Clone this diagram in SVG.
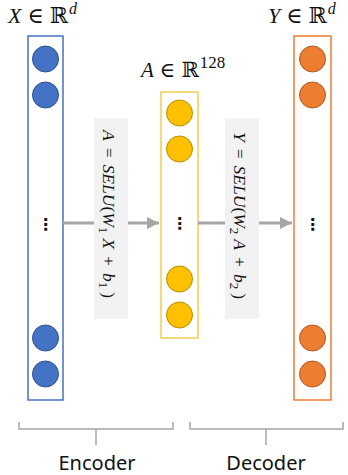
<svg xmlns="http://www.w3.org/2000/svg" width="348" height="475" viewBox="0 0 348 475">
  <defs>
    <marker id="head" viewBox="0 0 10 10" refX="10" refY="5" markerWidth="4" markerHeight="4" markerUnits="strokeWidth" orient="auto">
      <path d="M0,0 L10,5 L0,10 Z" fill="#A6A6A6"/>
    </marker>
    <style>
      .math { font-family: "Liberation Serif", "DejaVu Serif", serif; font-style: italic; fill: #111; }
      .bb { font-family: "DejaVu Serif", "DejaVu Sans", serif; font-style: normal; }
      .up { font-style: normal; }
      .layer { fill: #fff; stroke-width: 1.5; }
      .blue .layer { stroke: #4472C4; }
      .blue circle { fill: #4472C4; stroke: #2F528F; stroke-width: 1; }
      .gold .layer { stroke: #F2CC4E; }
      .gold circle { fill: #FFC000; stroke: #BC8C00; stroke-width: 1; }
      .orange .layer { stroke: #ED7D31; }
      .orange circle { fill: #ED7D31; stroke: #AE5A21; stroke-width: 1; }
      .vdots { font-family: "DejaVu Sans", sans-serif; font-size: 16px; font-weight: bold; fill: #111; text-anchor: middle; }
      .eq { fill: #F2F2F2; }
      .arrow { stroke: #A6A6A6; stroke-width: 3; fill: none; }
      .brace { stroke: #A6A6A6; stroke-width: 1.5; fill: none; }
      .cap { font-family: "Noto Sans", "Open Sans", sans-serif; font-size: 20px; fill: #111; text-anchor: middle; }
    </style>
  </defs>

  <!-- input layer X -->
  <g id="input" class="blue">
    <text class="math" x="8" y="23" font-size="22">X<tspan class="up" dx="6">∈</tspan><tspan class="bb" dx="6">ℝ</tspan><tspan font-size="16" dy="-9" dx="1">d</tspan></text>
    <rect class="layer" x="28" y="36" width="35" height="364"/>
    <circle cx="45.5" cy="59" r="13"/>
    <circle cx="45.5" cy="95" r="13"/>
    <text class="vdots" x="45.5" y="230">⋮</text>
    <circle cx="45.5" cy="338" r="13"/>
    <circle cx="45.5" cy="374" r="13"/>
  </g>

  <!-- code layer A -->
  <g id="code" class="gold">
    <text class="math" x="141" y="77" font-size="21">A<tspan class="up" dx="6">∈</tspan><tspan class="bb" dx="6">ℝ</tspan><tspan class="up" font-size="17" dy="-9" dx="1">128</tspan></text>
    <rect class="layer" x="161" y="92" width="37" height="246"/>
    <circle cx="179.5" cy="113" r="13"/>
    <circle cx="179.5" cy="149" r="13"/>
    <text class="vdots" x="179.5" y="229">⋮</text>
    <circle cx="179.5" cy="279" r="13"/>
    <circle cx="179.5" cy="315" r="13"/>
  </g>

  <!-- output layer Y -->
  <g id="output" class="orange">
    <text class="math" x="268" y="23" font-size="22">Y<tspan class="up" dx="6">∈</tspan><tspan class="bb" dx="6">ℝ</tspan><tspan font-size="16" dy="-9" dx="1">d</tspan></text>
    <rect class="layer" x="294" y="36" width="37" height="364"/>
    <circle cx="312.5" cy="59" r="13"/>
    <circle cx="312.5" cy="95" r="13"/>
    <text class="vdots" x="312.5" y="230">⋮</text>
    <circle cx="312.5" cy="338" r="13"/>
    <circle cx="312.5" cy="374" r="13"/>
  </g>

  <!-- connectors -->
  <g id="connectors">
    <line class="arrow" x1="63" y1="223" x2="159" y2="223" marker-end="url(#head)"/>
    <line class="arrow" x1="198" y1="223" x2="292" y2="223" marker-end="url(#head)"/>
  </g>

  <!-- encoder equation -->
  <g id="encoder-eq">
    <rect class="eq" x="94" y="118" width="34" height="201"/>
    <text class="math" font-size="17.5" transform="translate(102.5,130) rotate(90)">A<tspan class="up" dx="7">=</tspan><tspan dx="7">SELU</tspan><tspan class="up">(</tspan>W<tspan class="up" font-size="13" dy="4">1</tspan><tspan dy="-4" dx="5">X</tspan><tspan class="up" dx="7">+</tspan><tspan dx="7">b</tspan><tspan class="up" font-size="13" dy="4">1</tspan><tspan class="up" dy="-4" dx="4">)</tspan></text>
  </g>

  <!-- decoder equation -->
  <g id="decoder-eq">
    <rect class="eq" x="225" y="118" width="34" height="201"/>
    <text class="math" font-size="17.5" transform="translate(233.5,132) rotate(90)">Y<tspan class="up" dx="7">=</tspan><tspan dx="7">SELU</tspan><tspan class="up">(</tspan>W<tspan class="up" font-size="13" dy="4">2</tspan><tspan dy="-4" dx="5">A</tspan><tspan class="up" dx="7">+</tspan><tspan dx="7">b</tspan><tspan class="up" font-size="13" dy="4">2</tspan><tspan class="up" dy="-4" dx="4">)</tspan></text>
  </g>

  <!-- encoder brace -->
  <g id="encoder">
    <path class="brace" d="M19,422 V429 H173 V422 M96,429 V445"/>
    <text class="cap" x="97" y="470">Encoder</text>
  </g>

  <!-- decoder brace -->
  <g id="decoder">
    <path class="brace" d="M190,422 V429 H343 V422 M266,429 V445"/>
    <text class="cap" x="266" y="470">Decoder</text>
  </g>
</svg>
